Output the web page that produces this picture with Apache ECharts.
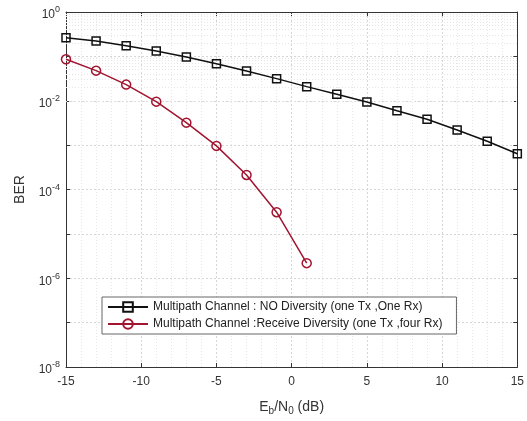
<!DOCTYPE html>
<html>
<head>
<meta charset="utf-8">
<script src="https://cdn.jsdelivr.net/npm/echarts@6/dist/echarts.min.js"></script>
<style>
  html, body { margin: 0; padding: 0; background: #fff; }
  #chart { width: 527px; height: 421px; }
</style>
</head>
<body>
<div id="chart"></div>
<script>
// Eb/N0 (dB) points
const ebnoNoDiv  = [-15, -13, -11, -9, -7, -5, -3, -1, 1, 3, 5, 7, 9, 11, 13, 15]
const berNoDiv   = [0.264, 0.222, 0.174, 0.132, 0.0969, 0.0685, 0.0469, 0.0315,
                    0.0208, 0.0140, 0.0094, 0.00598, 0.00383, 0.0022, 0.00122, 0.00064]
const ebnoRxDiv  = [-15, -13, -11, -9, -7, -5, -3, -1, 1]
const berRxDiv   = [0.0859, 0.0477, 0.0231, 0.00955, 0.00321, 0.00096, 0.000213, 3.08e-5, 2.19e-6]

const xTicks = [-15, -10, -5, 0, 5, 10, 15]
const yExps  = [0, -2, -4, -6, -8]   // labelled decades

const NAME_NODIV = 'Multipath Channel : NO Diversity (one Tx ,One Rx)'
const NAME_RXDIV = 'Multipath Channel :Receive Diversity (one Tx ,four Rx)'

// minor log grid (2..9 within each decade)
const minorGrid = []
for (let e = -8; e < 0; e++) {
  for (let m = 2; m <= 9; m++) minorGrid.push({ yAxis: m * Math.pow(10, e) })
}

const FONT = 'Liberation Sans, Arial, sans-serif'
const AXIS_COLOR = '#333'
const GRID_COLOR = '#d6d6d6'

const chart = echarts.init(document.getElementById('chart'), null, { renderer: 'canvas' })

const supRich = {
  b: { fontSize: 12, color: '#333', fontFamily: FONT, padding: [6, 0, 0, 0] },
  s: { fontSize: 9, color: '#333', fontFamily: FONT, padding: [0, 0, 4, 0] },
}

chart.setOption({
  backgroundColor: '#fff',
  animation: false,
  grid: { left: 66, right: 9, top: 12, bottom: 54 },
  legend: {
    orient: 'vertical',
    left: 102, top: 297,
    padding: [4, 14, 4, 5],
    itemGap: 5,
    itemWidth: 40, itemHeight: 12,
    backgroundColor: '#fff',
    borderColor: '#666', borderWidth: 1,
    textStyle: { fontSize: 12, color: '#222', fontFamily: FONT },
    data: [NAME_NODIV, NAME_RXDIV],
  },
  xAxis: [{
    type: 'value', min: -15, max: 15, interval: 5,
    name: '{a|E}{sub|b}{a|/N}{sub|0}{a| (dB)}',
    nameLocation: 'middle', nameGap: 31,
    nameTextStyle: {
      rich: {
        a: { fontSize: 14, color: '#333', fontFamily: FONT },
        sub: { fontSize: 10, color: '#333', fontFamily: FONT, padding: [8, 0, 0, 0] },
      },
    },
    axisLine: { onZero: false, lineStyle: { color: AXIS_COLOR } },
    axisTick: { inside: true, length: 4, lineStyle: { color: AXIS_COLOR } },
    axisLabel: { fontSize: 12, color: '#333', fontFamily: FONT, margin: 9,
                 formatter: v => xTicks.includes(v) ? String(v) : '' },
    splitLine: { show: true, lineStyle: { color: GRID_COLOR, type: [2, 2] } },
    minorTick: { show: false, splitNumber: 5 },
    minorSplitLine: { show: true, lineStyle: { color: '#e6e6e6', type: [1, 2] } },
  }, {
    type: 'value', min: -15, max: 15, interval: 5, position: 'top',
    axisLine: { onZero: false, lineStyle: { color: AXIS_COLOR } },
    axisTick: { inside: true, length: 4, lineStyle: { color: AXIS_COLOR } },
    axisLabel: { show: false }, splitLine: { show: false },
  }],
  yAxis: [{
    type: 'log', logBase: 10, min: 1e-8, max: 1, splitNumber: 8,
    name: 'BER', nameLocation: 'middle', nameGap: 39,
    nameTextStyle: { fontSize: 14, color: '#333', fontFamily: FONT },
    axisLine: { show: true, onZero: false, lineStyle: { color: AXIS_COLOR } },
    axisTick: { show: true, inside: true, length: 4, lineStyle: { color: AXIS_COLOR } },
    axisLabel: {
      fontSize: 12, color: '#333', fontFamily: FONT, margin: 6,
      formatter: v => {
        const e = Math.round(Math.log10(v))
        return yExps.includes(e) ? '{b|10}{s|' + e + '}' : ''
      },
      rich: supRich,
    },
    splitLine: { show: true, lineStyle: { color: GRID_COLOR, type: [2, 2] } },
  }, {
    type: 'log', logBase: 10, min: 1e-8, max: 1, splitNumber: 8, position: 'right',
    axisLine: { show: true, onZero: false, lineStyle: { color: AXIS_COLOR } },
    axisTick: { show: true, inside: true, length: 4, lineStyle: { color: AXIS_COLOR } },
    axisLabel: { show: false }, splitLine: { show: false },
  }],
  series: [{
    name: NAME_NODIV, type: 'line',
    data: ebnoNoDiv.map((x, i) => [x, berNoDiv[i]]),
    symbol: 'rect', symbolSize: 8,
    lineStyle: { color: '#111', width: 1.5 },
    itemStyle: { color: 'transparent', borderColor: '#111', borderWidth: 1.5 },
    z: 3,
    markLine: {
      silent: true, symbol: 'none', label: { show: false },
      lineStyle: { color: '#e6e6e6', type: [1, 2], width: 1 },
      data: minorGrid, z: 1,
    },
  }, {
    name: NAME_RXDIV, type: 'line',
    data: ebnoRxDiv.map((x, i) => [x, berRxDiv[i]]),
    symbol: 'circle', symbolSize: 9,
    lineStyle: { color: '#A2142F', width: 1.5 },
    itemStyle: { color: 'transparent', borderColor: '#A2142F', borderWidth: 1.5 },
    z: 3,
  }],
})
</script>
</body>
</html>
